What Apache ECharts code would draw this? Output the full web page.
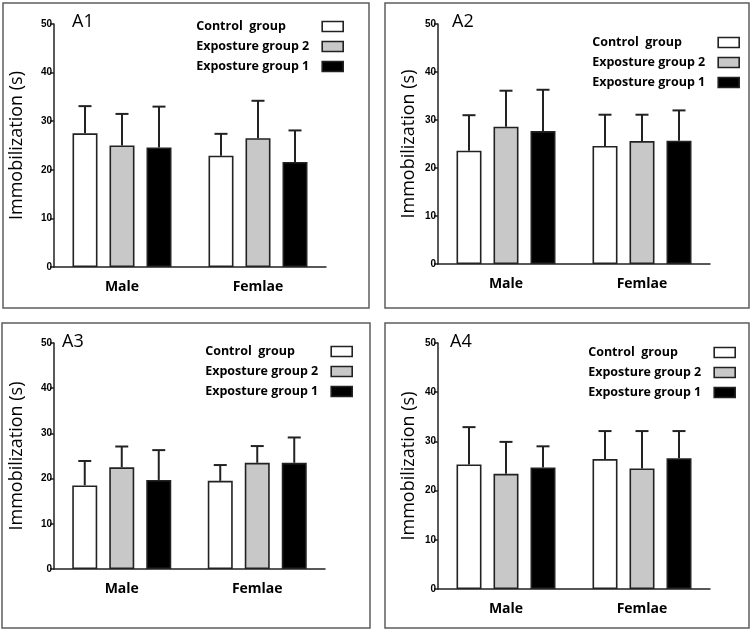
<!DOCTYPE html>
<html>
<head>
<meta charset="utf-8">
<script src="https://cdn.jsdelivr.net/npm/echarts@6/dist/echarts.min.js"></script>
<style>
  html, body { margin: 0; padding: 0; background: #fff; }
  #chart { width: 752px; height: 630px; }
</style>
</head>
<body>
<div id="chart"></div>
<script>
// 数据
const categories = ['Male', 'Femlae']
const groupNames = ['Control  group', 'Exposture group 2', 'Exposture group 1']
const yTicks = [0, 10, 20, 30, 40, 50]

// means: [control, exposure 2, exposure 1], each [Male, Femlae]
const a1Means = [[27.5, 22.9], [25.0, 26.5], [24.6, 21.6]]
const a1Errors = [[5.6, 4.5], [6.5, 7.7], [8.4, 6.5]]
const a2Means = [[23.6, 24.6], [28.6, 25.6], [27.7, 25.7]]
const a2Errors = [[7.4, 6.5], [7.5, 5.5], [8.6, 6.3]]
const a3Means = [[18.5, 19.5], [22.5, 23.5], [19.7, 23.5]]
const a3Errors = [[5.4, 3.5], [4.6, 3.7], [6.6, 5.6]]
const a4Means = [[25.3, 26.4], [23.4, 24.5], [24.7, 26.6]]
const a4Errors = [[7.6, 5.7], [6.5, 7.6], [4.3, 5.5]]

const panelLabels = ['A1', 'A2', 'A3', 'A4']
const panelMeans = [a1Means, a2Means, a3Means, a4Means]
const panelErrors = [a1Errors, a2Errors, a3Errors, a4Errors]

// 样式
const fills = ['#ffffff', '#c8c8c8', '#000000']
const ink = '#222222'
const BAR_WIDTH = 25
const BAR_GAP = 12
const CAP = 6.5
const FONT = '"Open Sans", "Noto Sans", sans-serif'

// 布局 (每个面板)
const layouts = [
  { grid: { left: 54, top: 24, width: 272, height: 243 }, frame: [3, 3, 366, 305], legend: { right: 408, top: 20 }, title: { left: 72, top: 13 }, nameGap: 28 },
  { grid: { left: 438, top: 24, width: 272, height: 240 }, frame: [385, 3, 364, 305], legend: { right: 12, top: 36 }, title: { left: 452, top: 13 }, nameGap: 20 },
  { grid: { left: 54, top: 343, width: 271, height: 226 }, frame: [2, 323, 368, 305], legend: { right: 399, top: 345 }, title: { left: 62, top: 333 }, nameGap: 28 },
  { grid: { left: 438, top: 343, width: 272, height: 246 }, frame: [385, 323, 364, 305], legend: { right: 16, top: 346 }, title: { left: 450, top: 333 }, nameGap: 20 }
]

/** 误差线 */
function errorSeries (p, g) {
  const means = panelMeans[p][g]
  const errors = panelErrors[p][g]
  return {
    type: 'custom',
    xAxisIndex: p,
    yAxisIndex: p,
    silent: true,
    z: 1,
    encode: { x: 0, y: [1, 2] },
    data: means.map((m, i) => [i, m, m + errors[i]]),
    renderItem (params, api) {
      const offset = (g - 1) * (BAR_WIDTH + BAR_GAP)
      const base = api.coord([api.value(0), api.value(1)])
      const top = api.coord([api.value(0), api.value(2)])
      const x = base[0] + offset
      const style = { stroke: ink, lineWidth: 2 }
      return {
        type: 'group',
        children: [
          { type: 'line', shape: { x1: x, y1: base[1], x2: x, y2: top[1] }, style },
          { type: 'line', shape: { x1: x - CAP, y1: top[1], x2: x + CAP, y2: top[1] }, style }
        ]
      }
    }
  }
}

function barSeries (p, g) {
  return {
    name: groupNames[g],
    type: 'bar',
    xAxisIndex: p,
    yAxisIndex: p,
    barWidth: BAR_WIDTH,
    barGap: (BAR_GAP / BAR_WIDTH * 100) + '%',
    z: 2,
    itemStyle: { color: fills[g], borderColor: ink, borderWidth: 1.6 },
    data: panelMeans[p][g]
  }
}

const grid = []
const xAxis = []
const yAxis = []
const legend = []
const title = []
const series = []
const graphic = []

layouts.forEach((lay, p) => {
  grid.push(lay.grid)
  xAxis.push({
    type: 'category',
    gridIndex: p,
    data: categories,
    axisLine: { lineStyle: { color: ink, width: 1.5 } },
    axisTick: { alignWithLabel: true, length: 4, lineStyle: { color: ink, width: 1.5 } },
    axisLabel: { color: '#000', fontFamily: FONT, fontWeight: 'bold', fontSize: 14, margin: 13 }
  })
  yAxis.push({
    type: 'value',
    gridIndex: p,
    min: yTicks[0],
    max: yTicks[yTicks.length - 1],
    interval: yTicks[1] - yTicks[0],
    name: 'Immobilization (s)',
    nameLocation: 'middle',
    nameGap: lay.nameGap,
    nameTextStyle: { color: '#000', fontFamily: FONT, fontSize: 18 },
    axisLine: { show: true, lineStyle: { color: ink, width: 1.5 } },
    axisTick: { show: true, length: 4, lineStyle: { color: ink, width: 1.5 } },
    axisLabel: { color: '#000', fontFamily: 'Liberation Sans, Arial, sans-serif', fontWeight: 'bold', fontSize: 10, margin: 2 },
    splitLine: { show: false }
  })
  legend.push({
    data: groupNames,
    orient: 'vertical',
    align: 'right',
    right: lay.legend.right,
    top: lay.legend.top,
    padding: 0,
    itemGap: 7,
    itemWidth: 21,
    itemHeight: 10,
    icon: 'rect',
    selectedMode: false,
    itemStyle: { borderColor: ink, borderWidth: 1.6 },
    formatter: name => `{t|${name}}`,
    textStyle: {
      rich: { t: { width: 121, align: 'left', lineHeight: 14, fontFamily: FONT, fontWeight: 'bold', fontSize: 12.5, color: '#000' } }
    }
  })
  title.push({
    text: panelLabels[p],
    left: lay.title.left,
    top: lay.title.top,
    padding: 0,
    textStyle: { fontFamily: FONT, fontWeight: 'normal', fontSize: 18, color: '#000' }
  })
  const [fx, fy, fw, fh] = lay.frame
  graphic.push({
    type: 'rect',
    shape: { x: fx, y: fy, width: fw, height: fh },
    style: { fill: 'none', stroke: '#5e5e5e', lineWidth: 1.5 },
    silent: true
  })
  for (let g = 0; g < groupNames.length; g++) {
    series.push(barSeries(p, g))
  }
  for (let g = 0; g < groupNames.length; g++) {
    series.push(errorSeries(p, g))
  }
})

const chart = echarts.init(document.getElementById('chart'), null, { renderer: 'canvas' })
chart.setOption({
  backgroundColor: '#fff',
  animation: false,
  grid,
  xAxis,
  yAxis,
  legend,
  title,
  series,
  graphic
})
</script>
</body>
</html>
